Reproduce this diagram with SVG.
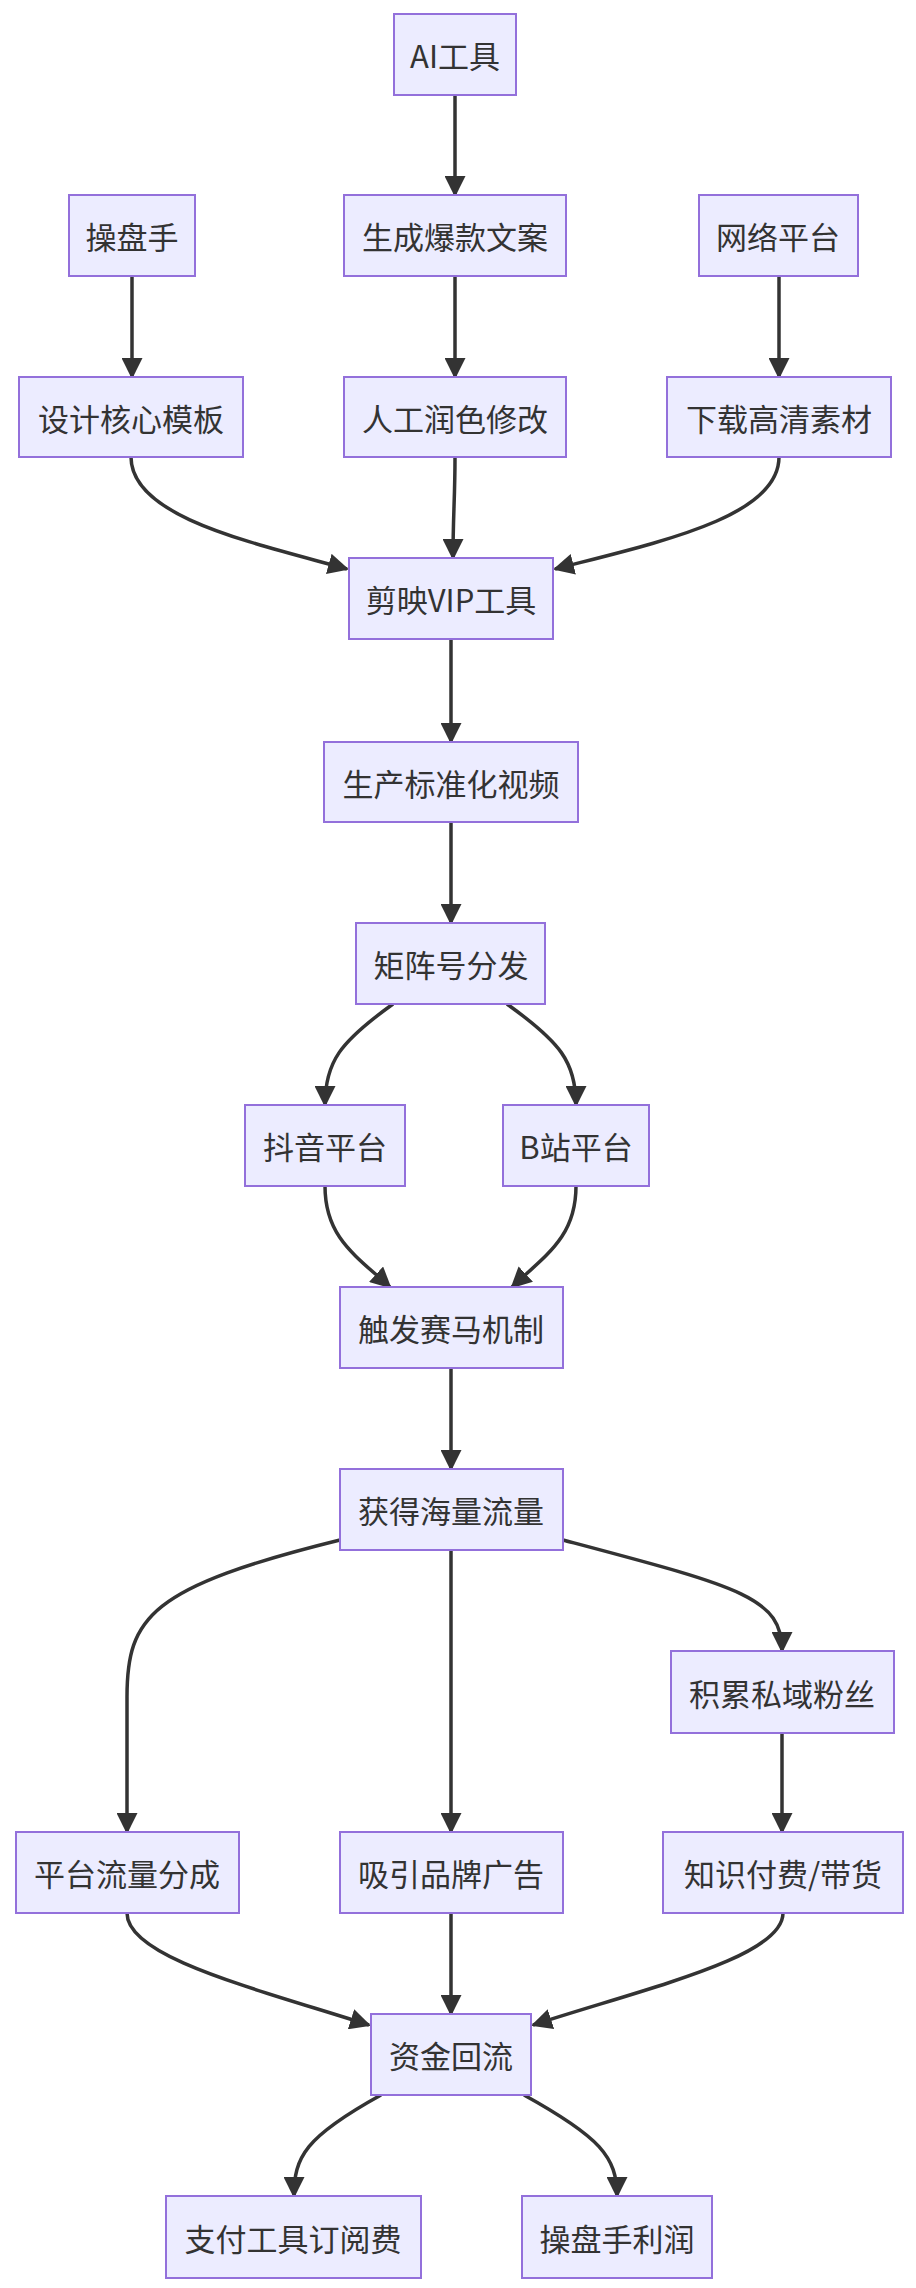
<svg xmlns="http://www.w3.org/2000/svg" width="916" height="2288" viewBox="0 0 916 2288">
<style>
.n rect{fill:#ECECFF;stroke:#9370DB;stroke-width:2}
.n text{font-family:"Noto Sans CJK SC","Liberation Sans",sans-serif;font-size:31px;fill:#333;text-anchor:middle;dominant-baseline:central}
.e path{fill:none;stroke:#333;stroke-width:3.5;marker-end:url(#a)}
</style>
<defs><marker id="a" viewBox="0 0 10 10" refX="9" refY="5" markerUnits="userSpaceOnUse" markerWidth="21" markerHeight="21" orient="auto"><path d="M0,0L10,5L0,10z" fill="#333"/></marker></defs>
<rect width="916" height="2288" fill="#fff"/>
<g class="e">
<path d="M455,95V195"/>
<path d="M132,276V377"/>
<path d="M455,276V377"/>
<path d="M779,276V377"/>
<path d="M131,457C131,517 250,542 347,569"/>
<path d="M455,457C455,497 453,517 453,558"/>
<path d="M779,457C779,517 660,542 555,569"/>
<path d="M451,639V742"/>
<path d="M451,822V923"/>
<path d="M393,1004C340,1042 325,1062 325,1105"/>
<path d="M507,1004C560,1042 576,1062 576,1105"/>
<path d="M325,1186C325,1237 355,1255 390,1287"/>
<path d="M576,1186C576,1237 546,1255 512,1287"/>
<path d="M451,1368V1469"/>
<path d="M340,1540C150,1587 127,1617 127,1697L127,1832"/>
<path d="M451,1550V1832"/>
<path d="M563,1540C740,1587 782,1597 782,1651"/>
<path d="M782,1733V1832"/>
<path d="M127,1913C127,1957 250,1987 369,2025"/>
<path d="M451,1913V2014"/>
<path d="M783,1913C783,1957 650,1987 533,2025"/>
<path d="M381,2095C305,2137 294,2157 294,2196"/>
<path d="M524,2095C600,2137 617,2157 617,2196"/>
</g>
<g class="n" id="n1"><rect x="394" y="14" width="122" height="81"/><text x="455" y="54">AI工具</text></g>
<g class="n" id="n2"><rect x="69" y="195" width="126" height="81"/><text x="132" y="235">操盘手</text></g>
<g class="n" id="n3"><rect x="344" y="195" width="222" height="81"/><text x="455" y="235">生成爆款文案</text></g>
<g class="n" id="n4"><rect x="699" y="195" width="159" height="81"/><text x="778" y="235">网络平台</text></g>
<g class="n" id="n5"><rect x="19" y="377" width="224" height="80"/><text x="131" y="417">设计核心模板</text></g>
<g class="n" id="n6"><rect x="344" y="377" width="222" height="80"/><text x="455" y="417">人工润色修改</text></g>
<g class="n" id="n7"><rect x="667" y="377" width="224" height="80"/><text x="779" y="417">下载高清素材</text></g>
<g class="n" id="n8"><rect x="349" y="558" width="204" height="81"/><text x="451" y="598">剪映VIP工具</text></g>
<g class="n" id="n9"><rect x="324" y="742" width="254" height="80"/><text x="451" y="782">生产标准化视频</text></g>
<g class="n" id="n10"><rect x="356" y="923" width="189" height="81"/><text x="451" y="963">矩阵号分发</text></g>
<g class="n" id="n11"><rect x="245" y="1105" width="160" height="81"/><text x="325" y="1145">抖音平台</text></g>
<g class="n" id="n12"><rect x="503" y="1105" width="146" height="81"/><text x="576" y="1145">B站平台</text></g>
<g class="n" id="n13"><rect x="340" y="1287" width="223" height="81"/><text x="451" y="1327">触发赛马机制</text></g>
<g class="n" id="n14"><rect x="340" y="1469" width="223" height="81"/><text x="451" y="1509">获得海量流量</text></g>
<g class="n" id="n15"><rect x="671" y="1651" width="223" height="82"/><text x="782" y="1692">积累私域粉丝</text></g>
<g class="n" id="n16"><rect x="16" y="1832" width="223" height="81"/><text x="127" y="1872">平台流量分成</text></g>
<g class="n" id="n17"><rect x="340" y="1832" width="223" height="81"/><text x="451" y="1872">吸引品牌广告</text></g>
<g class="n" id="n18"><rect x="663" y="1832" width="240" height="81"/><text x="783" y="1872">知识付费/带货</text></g>
<g class="n" id="n19"><rect x="371" y="2014" width="160" height="81"/><text x="451" y="2054">资金回流</text></g>
<g class="n" id="n20"><rect x="166" y="2196" width="255" height="82"/><text x="293" y="2237">支付工具订阅费</text></g>
<g class="n" id="n21"><rect x="522" y="2196" width="190" height="82"/><text x="617" y="2237">操盘手利润</text></g>
</svg>
